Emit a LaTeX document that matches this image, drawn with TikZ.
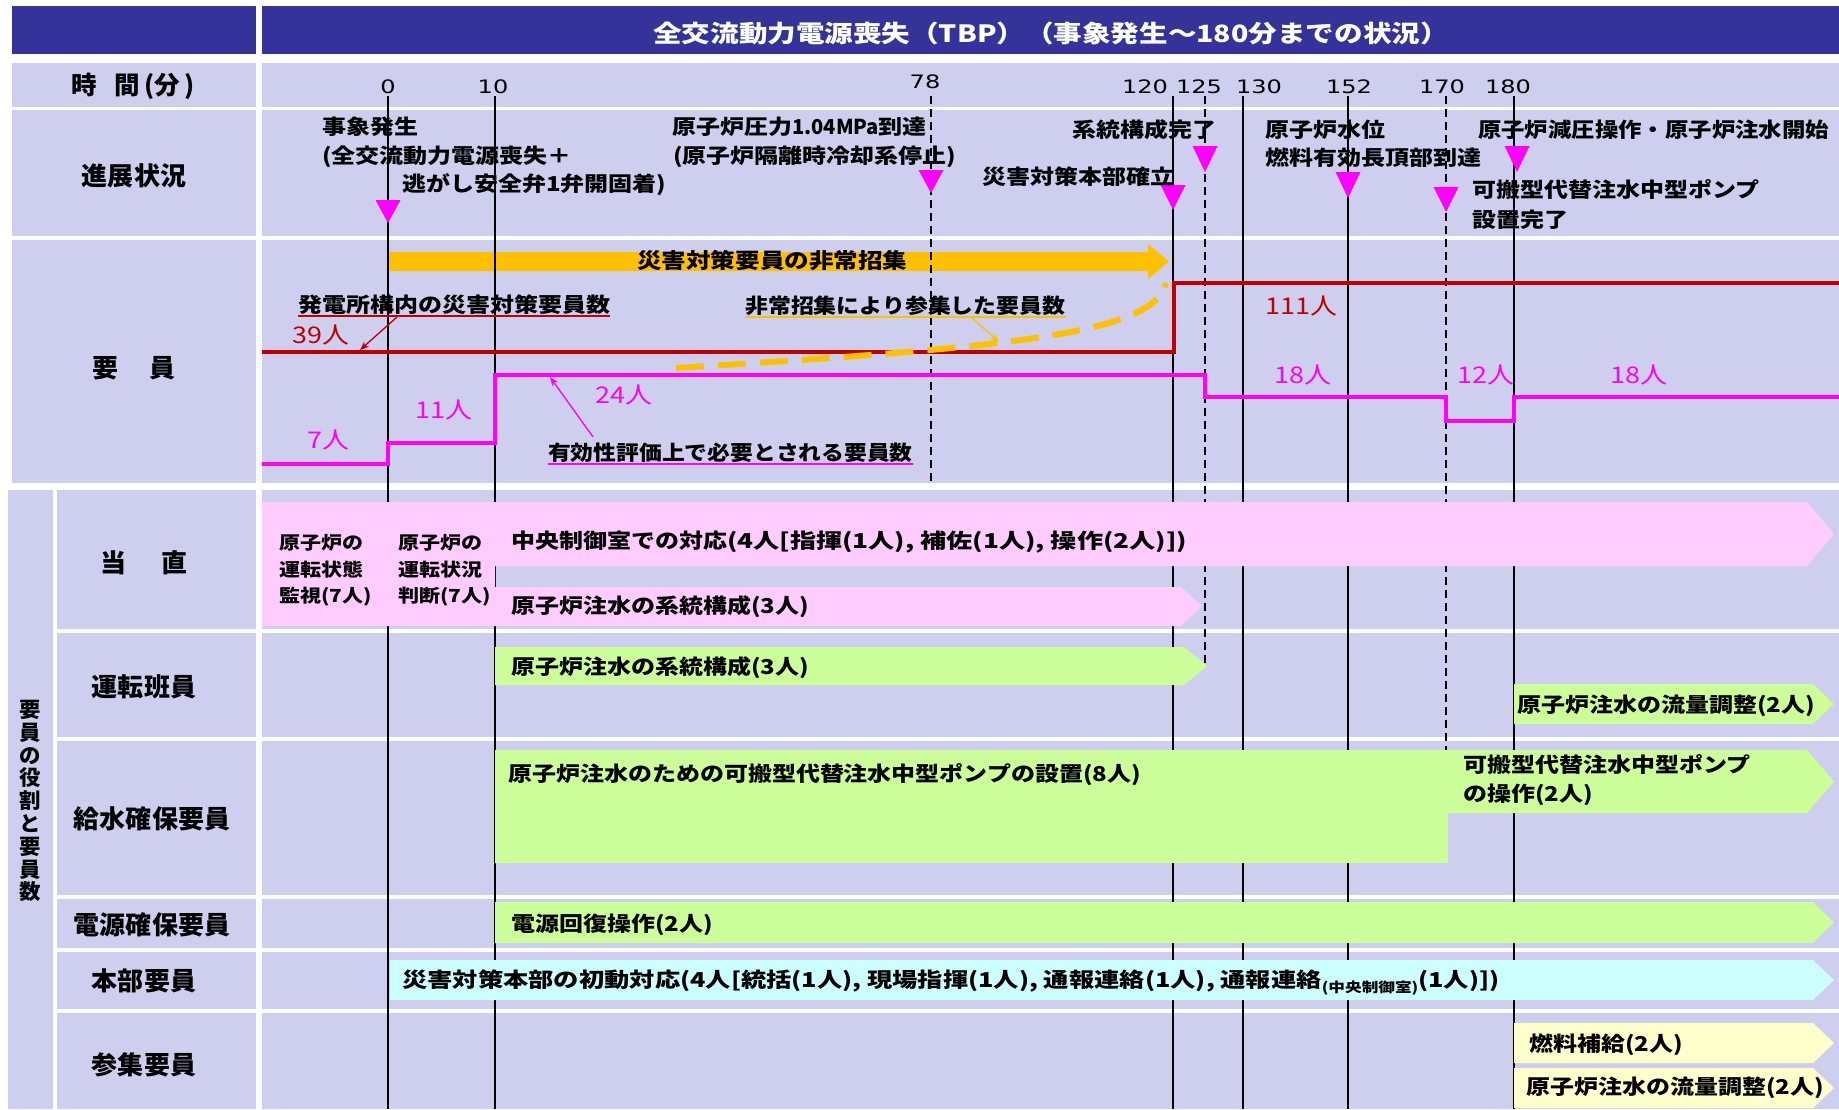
\documentclass[tikz,border=0pt]{standalone}
\usepackage{fontspec}
\usepackage{graphicx}
\setmainfont{Noto Sans CJK JP}[FakeStretch=1.17]
\newfontfamily\jpl{Noto Sans CJK JP}[FakeStretch=1.02]
\newfontfamily\jpt{Noto Sans CJK JP}[FakeStretch=1.2]
\newfontfamily\numf{DejaVu Sans}[FakeStretch=1.3]
\usetikzlibrary{arrows.meta}
\definecolor{lav}{RGB}{206,206,238}
\definecolor{navy}{RGB}{51,51,153}
\definecolor{pinkf}{RGB}{255,204,255}
\definecolor{greenf}{RGB}{204,255,153}
\definecolor{cyanf}{RGB}{204,255,255}
\definecolor{yellowf}{RGB}{255,255,204}
\definecolor{orangef}{RGB}{255,192,0}
\definecolor{dred}{RGB}{192,0,0}
\definecolor{mag}{RGB}{255,0,255}
\newcommand{\setfs}[1]{\fontsize{#1}{#1}\selectfont}
\newcommand{\downtri}[3]{\fill[mag] ({#1-12.5},#2) -- ({#1+12.5},#2) -- (#1,#3) -- cycle;}
\begin{document}
\begin{tikzpicture}[x=1pt,y=-1pt,
  txt/.style={anchor=west,inner sep=0pt,font=\bfseries\setfs{20.5}},
  small/.style={anchor=west,inner sep=0pt,font=\bfseries\setfs{18}},
  lbl/.style={inner sep=0pt,font=\jpl\bfseries\setfs{25.5}},
  num/.style={inner sep=0pt,font=\numf\setfs{18.5}},
  cnt/.style={anchor=west,inner sep=0pt,font=\setfs{23}},
  tline/.style={line width=2pt,black},
  dline/.style={line width=2pt,black,dash pattern=on 8pt off 5pt},
  thin/.style={line width=1.3pt,-{Stealth[length=9pt,width=7pt]}}]
\useasboundingbox (0,0) rectangle (1839,1109);
\fill[white] (0,0) rectangle (1839,1109);
% title
\fill[navy] (12,6) rectangle (256,54);
\fill[navy] (262,6) rectangle (1839,54);
\node[inner sep=0pt,text=white,font=\jpt\bfseries\setfs{23.8}] (title) at (1051,33) {全交流動力電源喪失（TBP）（事象発生～180分までの状況）};
% upper rows
\foreach \a/\b in {63/107,110/236,240/483}{
  \fill[lav] (12,\a) rectangle (256,\b);
  \fill[lav] (262,\a) rectangle (1839,\b);}
% lower section
\fill[lav] (8,490) rectangle (53,1109);
\foreach \a/\b in {490/629,633/737,741/895,899/948,952/1009,1013/1109}{
  \fill[lav] (57,\a) rectangle (256,\b);
  \fill[lav] (262,\a) rectangle (1839,\b);}
% orange arrow
\fill[orangef] (388,252) -- (1148,252) -- (1148,244) -- (1169,261.5) -- (1148,279) -- (1148,271) -- (388,271) -- cycle;
% time lines
\foreach \x in {388,495,1173,1243,1348,1514} \draw[tline] (\x,96) -- (\x,1109);
\draw[dline] (931,96) -- (931,483);
\draw[dline] (1205,96) -- (1205,665);
\draw[dline] (1446,96) -- (1446,750);
% staff lines
\draw[dred,line width=4.5pt] (262,352) -- (1174,352) -- (1174,283) -- (1839,283);
\draw[mag,line width=3.5pt] (262,464) -- (388,464) -- (388,443) -- (495,443) -- (495,375) -- (1205,375) -- (1205,397) -- (1446,397) -- (1446,421) -- (1514,421) -- (1514,397) -- (1839,397);
\draw[orangef,line width=6pt,dash pattern=on 28pt off 14pt] (676,368) .. controls (1000,348) and (1155,335) .. (1166,283);
% triangles
\downtri{388}{200}{223}
\downtri{931}{170}{193}
\downtri{1173}{185}{210}
\downtri{1205}{146}{172}
\downtri{1348}{172}{198}
\downtri{1446}{187}{212}
\downtri{1517}{146}{172}
% lower bars
\fill[pinkf] (262,502) -- (1807,502) -- (1834,534) -- (1807,566) -- (495,566) -- (495,587) -- (1181,587) -- (1202,606) -- (1181,626) -- (262,626) -- cycle;
\fill[greenf] (495,647) -- (1184,647) -- (1207,666) -- (1184,685) -- (495,685) -- cycle;
\fill[greenf] (1514,684) -- (1813,684) -- (1834,704) -- (1813,724) -- (1514,724) -- cycle;
\fill[greenf] (495,750) -- (1807,750) -- (1834,781.5) -- (1807,813) -- (1448,813) -- (1448,863) -- (495,863) -- cycle;
\fill[greenf] (495,902) -- (1813,902) -- (1834,922.5) -- (1813,943) -- (495,943) -- cycle;
\fill[cyanf] (390,960) -- (1813,960) -- (1834,980) -- (1813,1000) -- (390,1000) -- cycle;
\fill[yellowf] (1514,1023) -- (1813,1023) -- (1834,1043) -- (1813,1063) -- (1514,1063) -- cycle;
\fill[yellowf] (1514,1068) -- (1813,1068) -- (1834,1088) -- (1813,1108) -- (1514,1108) -- cycle;
% row labels
\node[lbl,font=\jpl\bfseries\setfs{25}] (lt) at (133,86) {時\hspace{0.7em}間\,(分\,)};
\node[lbl] (lp) at (134,176) {進展状況};
\node[lbl] (ls) at (134,368) {要\hspace{1.2em}員};
\node[lbl] (l1) at (144,563) {当\hspace{1.35em}直};
\node[lbl] (l2) at (144,687) {運転班員};
\node[lbl] (l3) at (152,819) {給水確保要員};
\node[lbl] (l4) at (152,925) {電源確保要員};
\node[lbl] (l5) at (144,981) {本部要員};
\node[lbl] (l6) at (144,1065) {参集要員};
\node[inner sep=0pt,align=center,font=\jpl\bfseries\fontsize{21}{22.8}\selectfont] (lv) at (30,801) {要\\員\\の\\役\\割\\と\\要\\員\\数};
% time numbers
\node[num] (n0) at (388,87) {0};
\node[num] (n10) at (493,87) {10};
\node[num] (n78) at (925,82) {78};
\node[num] (n120) at (1145,87) {120};
\node[num] (n125) at (1199,87) {125};
\node[num] (n130) at (1259,87) {130};
\node[num] (n152) at (1349,87) {152};
\node[num] (n170) at (1442,87) {170};
\node[num] (n180) at (1508,87) {180};
% progress texts
\node[txt] (p1) at (322,127) {事象発生};
\node[txt] (p2) at (322,157) {(全交流動力電源喪失＋};
\node[txt] (p3) at (402,185) {逃がし安全弁1弁開固着)};
\node[txt] (p4) at (672,127) {原子炉圧力\scalebox{0.84}[1]{1.04MPa}到達};
\node[txt] (p5) at (673,157) {(原子炉隔離時冷却系停止)};
\node[txt] (p6) at (1072,130) {系統構成完了};
\node[txt] (p7) at (982,177) {災害対策本部確立};
\node[txt] (p8) at (1265,130) {原子炉水位};
\node[txt] (p9) at (1265,158) {燃料有効長頂部到達};
\node[txt] (p10) at (1472,190) {可搬型代替注水中型ポンプ};
\node[txt] (p11) at (1472,220) {設置完了};
\node[txt] (p12) at (1478,130) {\scalebox{0.975}[1]{原子炉減圧操作・原子炉注水開始}};
% staff texts
\node[txt,font=\bfseries\setfs{21}] (s1) at (637,261) {災害対策要員の非常招集};
\node[txt] (s2) at (298,305) {発電所構内の災害対策要員数};
\draw[dred,line width=1.3pt] ([yshift=-1pt]s2.south west) -- ([yshift=-1pt]s2.south east);
\node[txt] (s3) at (745,306) {\scalebox{0.955}[1]{非常招集により参集した要員数}};
\draw[orangef,line width=1.3pt] ([yshift=-1pt]s3.south west) -- ([yshift=-1pt]s3.south east);
\node[txt] (s4) at (548,453) {\scalebox{0.95}[1]{有効性評価上で必要とされる要員数}};
\draw[mag,line width=1.3pt] ([yshift=-1pt]s4.south west) -- ([yshift=-1pt]s4.south east);
\node[cnt,text=dred] (c39) at (292,335) {39人};
\node[cnt,text=dred] (c111) at (1265,306) {111人};
\node[cnt,text=mag] (c7) at (307,440) {7人};
\node[cnt,text=mag] (c11) at (415,410) {11人};
\node[cnt,text=mag] (c24) at (595,395) {24人};
\node[cnt,text=mag] (c18a) at (1274,375) {18人};
\node[cnt,text=mag] (c12) at (1457,375) {12人};
\node[cnt,text=mag] (c18b) at (1610,375) {18人};
% pointer arrows
\coordinate (ra) at (397,317);
\coordinate (rb) at (360,350);
\draw[thin,dred] (ra) -- (rb);
\coordinate (oa) at (972,318);
\coordinate (ob) at (999,342);
\draw[thin,orangef] (oa) -- (ob);
\coordinate (ma) at (593,437);
\coordinate (mb) at (550,377);
\draw[thin,mag] (ma) -- (mb);
% lower texts
\node[small] (d1) at (279,543) {原子炉の};
\node[small] (d2) at (279,570) {運転状態};
\node[small] (d3) at (279,597) {監視(7人)};
\node[small] (d4) at (398,543) {原子炉の};
\node[small] (d5) at (398,570) {運転状況};
\node[small] (d6) at (398,597) {判断(7人)};
\node[txt] (b1) at (511,542) {中央制御室での対応\scalebox{1.09}[1]{(4人[指揮(1人), 補佐(1人), 操作(2人)])}};
\node[txt] (b2) at (511,607) {原子炉注水の系統構成(3人)};
\node[txt] (b3) at (511,668) {原子炉注水の系統構成(3人)};
\node[txt] (b4) at (1517,706) {原子炉注水の流量調整(2人)};
\node[txt] (b5) at (508,775) {原子炉注水のための可搬型代替注水中型ポンプの設置(8人)};
\node[txt] (b6) at (1463,765) {可搬型代替注水中型ポンプ};
\node[txt] (b7) at (1463,795) {の操作(2人)};
\node[txt] (b8) at (511,925) {電源回復操作(2人)};
\node[txt] (b9) at (402,983) {\scalebox{1.054}[1]{災害対策本部の初動対応(4人[統括(1人), 現場指揮(1人), 通報連絡(1人), 通報連絡\raisebox{-5pt}{\setfs{13.5}(中央制御室)}(1人)])}};
\node[txt] (b10) at (1529,1045) {燃料補給(2人)};
\node[txt] (b11) at (1526,1088) {原子炉注水の流量調整(2人)};
\end{tikzpicture}
\end{document}
